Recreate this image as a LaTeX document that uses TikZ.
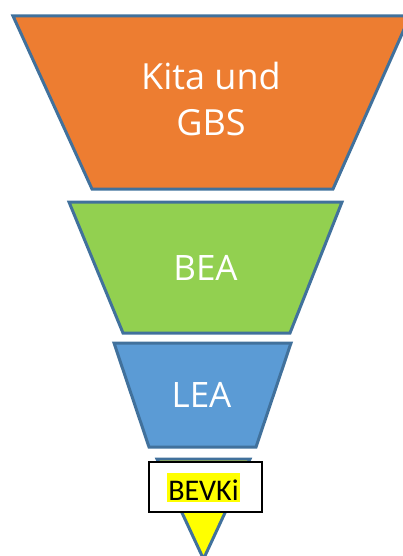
\documentclass[tikz,border=0pt]{standalone}
\usepackage{fontspec}
\setmainfont{Open Sans}
\newfontfamily\calib{Carlito}
\definecolor{orangeF}{HTML}{ED7D31}
\definecolor{greenF}{HTML}{92D050}
\definecolor{blueF}{HTML}{5B9BD5}
\definecolor{edgeC}{HTML}{41719C}
\definecolor{hl}{HTML}{FFFF00}
\tikzset{
  funnel/.style={draw=edgeC, line width=3pt, line join=miter},
  lbl/.style={text=white, font=\fontsize{35}{46}\selectfont, anchor=base, inner sep=0pt, align=center},
}
\begin{document}
\begin{tikzpicture}[x=1pt,y=-1pt]
\useasboundingbox (0,0) rectangle (403,556);
\clip (0,0) rectangle (403,556);
% orange
\path[funnel, fill=orangeF] (13,16) -- (410,16) -- (333,189) -- (92,189) -- cycle;
% green
\path[funnel, fill=greenF] (69,202) -- (342,202) -- (290,333) -- (123,333) -- cycle;
% blue
\path[funnel, fill=blueF] (114,343) -- (291,343) -- (256,447) -- (149,447) -- cycle;
% yellow triangle
\path[funnel, fill=hl] (157,459) -- (250,459) -- (203.5,559) -- cycle;
% box
\node (box) [draw=black, fill=white, line width=1.5pt, minimum width=113pt, minimum height=50pt, inner sep=0pt] at (205.5,487) {};
\node (bevki) [fill=hl, font=\calib\fontsize{30}{34}\selectfont, inner xsep=1pt, inner ysep=0pt, text height=27pt, text depth=2pt, anchor=base] at (203.5,500) {BEVKi};
% labels
\node (kita) [lbl, font=\fontsize{36}{46}\selectfont] at (211,90) {Kita und};
\node (gbs) [lbl, font=\fontsize{36}{46}\selectfont] at (211,136) {GBS};
\node (bea) [lbl] at (205.5,280) {BEA};
\node (lea) [lbl] at (201.5,407) {LEA};
\end{tikzpicture}
\end{document}
